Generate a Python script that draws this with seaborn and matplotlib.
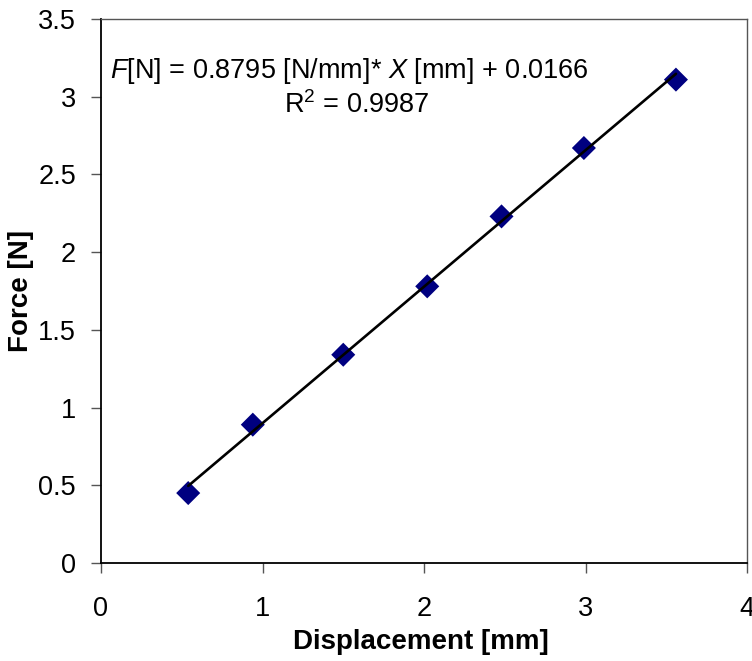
import numpy as np
import pandas as pd
import seaborn as sns
from matplotlib import pyplot as plt

# values
displacement = [0.54, 0.94, 1.50, 2.02, 2.48, 2.99, 3.56]
force = [0.45, 0.89, 1.34, 1.78, 2.23, 2.67, 3.11]
xticks = [0, 1, 2, 3, 4]
yticks = [0, 0.5, 1, 1.5, 2, 2.5, 3, 3.5]
eq_text = r"$\it{F}$[N] = 0.8795 [N/mm]* $\it{X}$ [mm] + 0.0166"
r2_text = r"R$^2$ = 0.9987"

sns.set_style("white")
plt.rcParams["font.family"] = ["Liberation Sans", "DejaVu Sans"]
plt.rcParams["mathtext.fontset"] = "custom"
plt.rcParams["mathtext.rm"] = "Liberation Sans"
plt.rcParams["mathtext.it"] = "Liberation Sans:italic"
plt.rcParams["mathtext.bf"] = "Liberation Sans:bold"
for k in ["text.color", "axes.labelcolor", "xtick.labelcolor", "ytick.labelcolor"]:
    plt.rcParams[k] = "black"

df = pd.DataFrame({"x": displacement, "y": force})

fig = plt.figure(figsize=(7.52, 6.61), dpi=100)
ax = fig.add_axes([101/752, 1-563/661, 646/752, 544/661])

sns.regplot(
    data=df, x="x", y="y", ax=ax, ci=None, marker="D",
    scatter_kws={"color": "#000080", "s": 150, "edgecolor": "none", "alpha": 1},
    line_kws={"color": "black", "lw": 1.9},
)

ax.set_xlim(0, 4)
ax.set_ylim(0, 3.5)
ax.set_xticks(xticks)
ax.set_yticks(yticks)
ax.set_xticklabels([str(t) for t in xticks])
ax.set_yticklabels([("%g" % t) for t in yticks])
ax.tick_params(axis="both", labelsize=19.5, direction="out", length=7,
               width=1, color="#555555", labelcolor="black",
               left=True, bottom=True)
ax.tick_params(axis="x", pad=17)
ax.tick_params(axis="y", pad=11)

for s in ["left", "bottom"]:
    ax.spines[s].set_color("black")
    ax.spines[s].set_linewidth(1.3)
for s in ["top", "right"]:
    ax.spines[s].set_color("#555555")
    ax.spines[s].set_linewidth(1.0)

ax.set_xlabel("Displacement [mm]", fontsize=20, fontweight="bold", color="black")
ax.set_ylabel("Force [N]", fontsize=20, fontweight="bold", color="black")
ax.xaxis.set_label_coords(0.495, -0.122)
ax.yaxis.set_label_coords(-0.103, 0.5)

ax.text(0.385, 0.904, eq_text, transform=ax.transAxes, ha="center",
        va="center", fontsize=19.5, color="black")
ax.text(0.396, 0.842, r2_text, transform=ax.transAxes, ha="center",
        va="center", fontsize=19.5, color="black")

fig.savefig("out.png", dpi=100)
